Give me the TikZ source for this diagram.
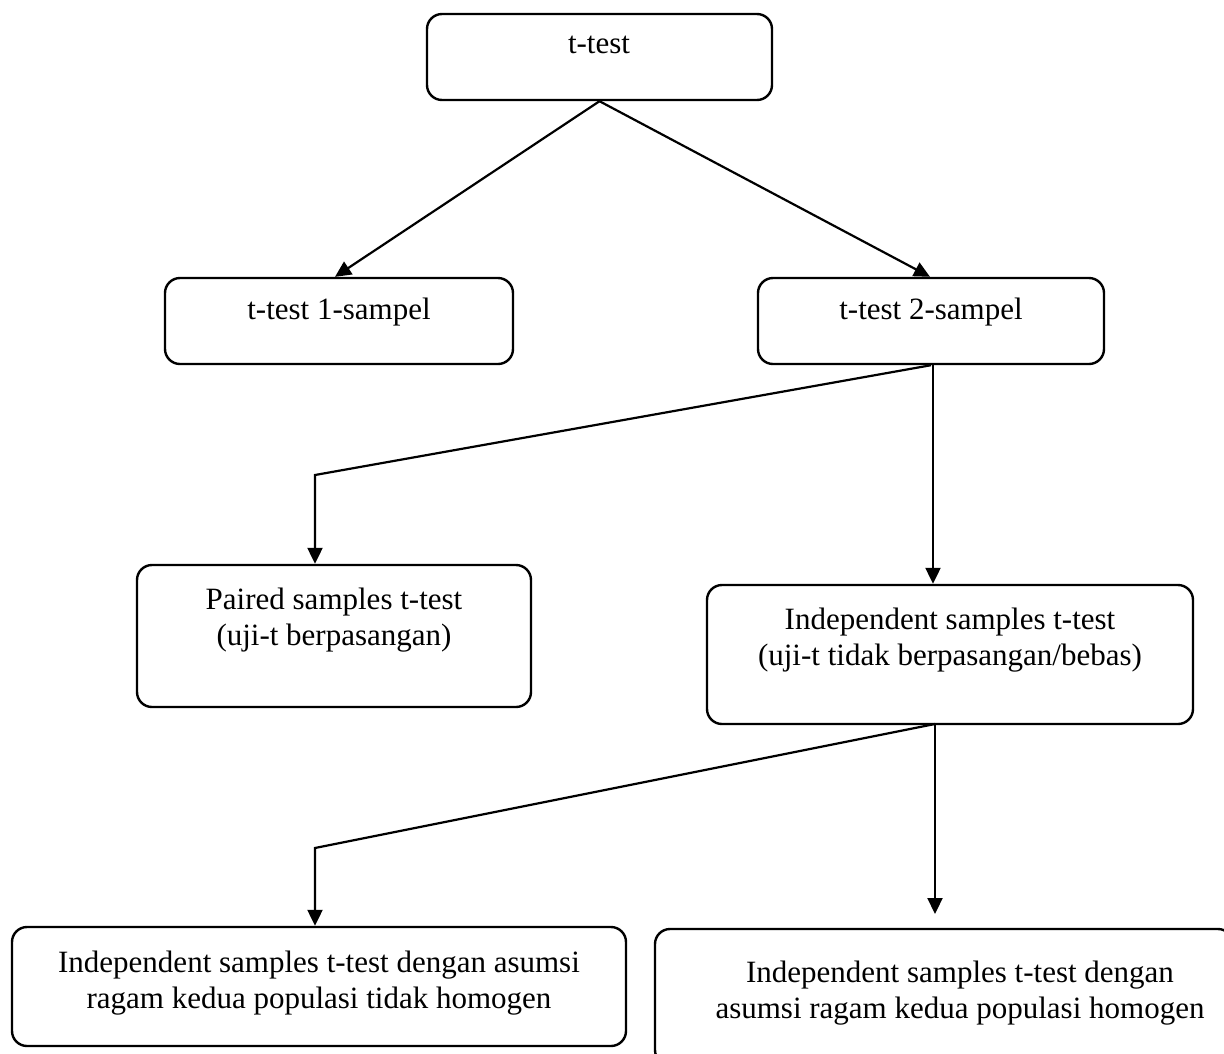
\documentclass[tikz,border=0pt]{standalone}
\usepackage{fontspec}
\setmainfont{Liberation Serif}
\usetikzlibrary{arrows.meta,calc}
\begin{document}
\begin{tikzpicture}[x=1pt,y=-1pt,
  box/.style={draw,line width=2.4pt,rounded corners=15pt,inner sep=0pt},
  lbl/.style={align=center,inner sep=0pt,font=\fontsize{31}{36}\selectfont},
  conn/.style={line width=2.2pt,-{Triangle[width=15pt,length=16pt]}},
  plain/.style={line width=2.2pt}]
\useasboundingbox (0,0) rectangle (1224,1053);
\node[box,minimum width=345pt,minimum height=86pt] (top) at (599.5,57) {};
\node[lbl] (ttop) at (599,45) {t-test};
\node[box,minimum width=348pt,minimum height=86pt] (one) at (339,321) {};
\node[lbl] (tone) at (339,312) {t-test 1-sampel};
\node[box,minimum width=346pt,minimum height=86pt] (two) at (931,321) {};
\node[lbl] (ttwo) at (931,312) {t-test 2-sampel};
\node[box,minimum width=394pt,minimum height=142pt] (paired) at (334,636) {};
\node[lbl] (tpaired) at (334,620) {Paired samples t-test\\(uji-t berpasangan)};
\node[box,minimum width=486pt,minimum height=139pt] (indep) at (950,654.5) {};
\node[lbl] (tindep) at (950,640) {Independent samples t-test\\(uji-t tidak berpasangan/bebas)};
\node[box,minimum width=614pt,minimum height=119pt] (bl) at (319,986.5) {};
\node[lbl] (tbl) at (319,983) {Independent samples t-test dengan asumsi\\ragam kedua populasi tidak homogen};
\node[box,minimum width=578pt,minimum height=136pt] (br) at (944,997) {};
\node[lbl] (tbr) at (960,993) {Independent samples t-test dengan\\asumsi ragam kedua populasi homogen};
\coordinate (k1) at (315,475);
\coordinate (k2) at (315,848);
\coordinate (j) at (935,724);
\coordinate (e) at (935,914);
\draw[conn] (top.south) -- ([xshift=-4pt]one.north);
\draw[conn] (top.south) -- ([xshift=-1pt]two.north);
\draw[conn] (two.south) -- (k1) -- (k1 |- paired.north);
\draw[conn] ([xshift=2pt]two.south) -- ([xshift=2pt]two.south |- indep.north);
\draw[conn] (j) -- (k2) -- (k2 |- bl.north);
\draw[conn] (j) -- (e);
\end{tikzpicture}
\end{document}
